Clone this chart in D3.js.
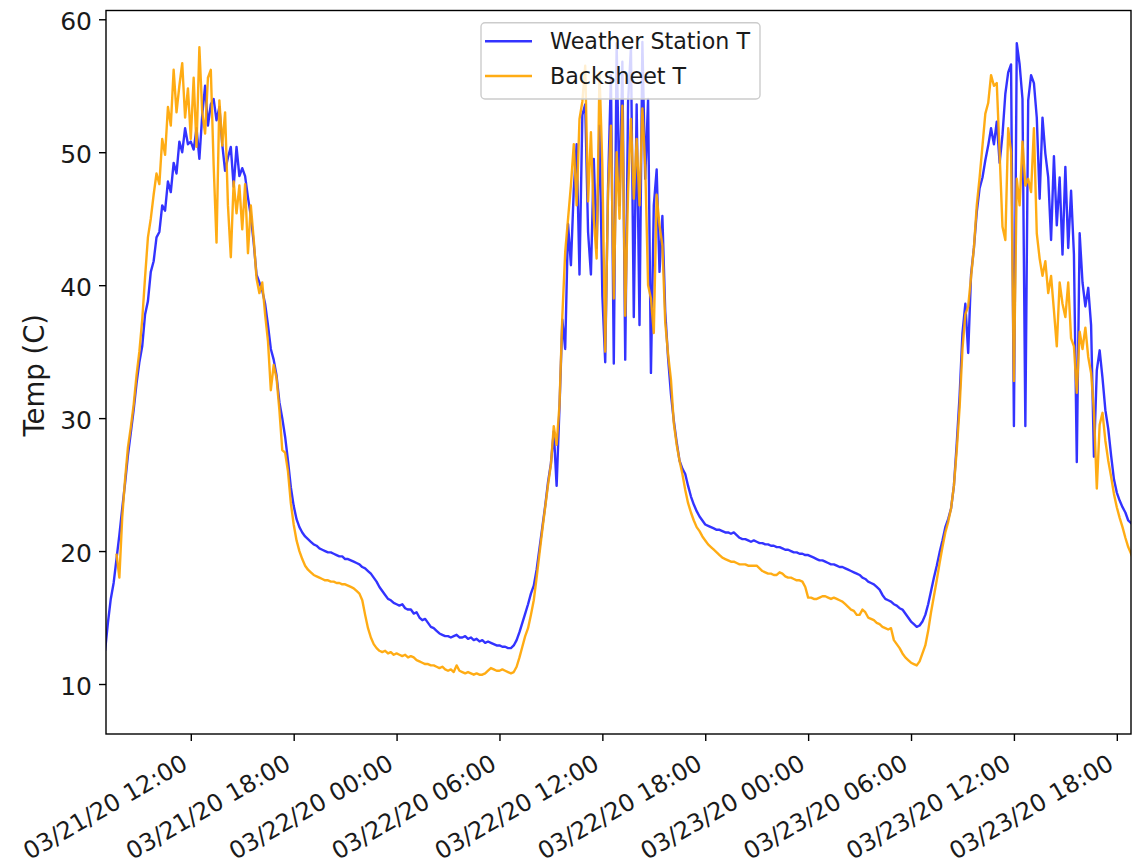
<!DOCTYPE html>
<html>
<head>
<meta charset="utf-8">
<script src="https://cdn.jsdelivr.net/npm/d3@7"></script>
<style>
  html, body { margin: 0; padding: 0; background: #ffffff; }
  svg { display: block; font-family: "DejaVu Sans", sans-serif; }
</style>
</head>
<body>
<svg id="chart" width="1132" height="867"></svg>
<script>
// Samples every 10 minutes starting 03/21/20 07:00 (one row per hour)
const seriesStart = "2020-03-21T07:00:00";
const stepMinutes = 10;

const weatherStationT = [
  12.5, 14.6, 16.4, 17.6, 19.4, 21.2,
  23.2, 25.1, 27.2, 28.9, 30.6, 32.6,
  34.2, 35.4, 37.8, 38.8, 41.0, 41.8,
  43.6, 44.0, 46.0, 45.6, 47.8, 47.0,
  49.2, 48.4, 50.8, 50.0, 51.8, 50.6,
  50.8, 50.2, 51.8, 49.5, 52.8, 55.0,
  52.0, 53.6, 54.0, 52.4, 53.4, 50.6,
  48.6, 49.6, 50.4, 47.4, 50.4, 48.2,
  48.8, 48.2, 46.6, 45.2, 43.2, 40.8,
  40.2, 39.6, 38.6, 37.0, 35.2, 34.4,
  33.2, 31.2, 30.0, 28.6, 26.8, 24.8,
  23.4, 22.4, 21.8, 21.4, 21.1, 20.9,
  20.7, 20.5, 20.4, 20.2, 20.1, 20.0,
  19.9, 19.9, 19.8, 19.7, 19.6, 19.6,
  19.4, 19.4, 19.3, 19.2, 19.1, 19.0,
  18.8, 18.7, 18.5, 18.3, 18.0, 17.7,
  17.3, 17.0, 16.7, 16.4, 16.3, 16.1,
  16.0, 15.9, 16.0, 15.7, 15.6, 15.6,
  15.3, 15.4, 15.0, 14.8, 14.9, 14.6,
  14.3, 14.2, 14.0, 13.8, 13.7, 13.6,
  13.6, 13.5, 13.6, 13.7, 13.5, 13.5,
  13.6, 13.4, 13.5, 13.3, 13.4, 13.2,
  13.3, 13.1, 13.2, 13.1, 13.0, 12.9,
  12.9, 12.8, 12.8, 12.7, 12.7, 12.9,
  13.3, 13.9, 14.6, 15.3, 16.0, 16.8,
  17.4, 18.6, 20.2, 21.8, 23.4, 25.2,
  26.6, 29.0, 24.9, 30.8, 37.4, 35.2,
  44.6, 41.5, 47.2, 50.6, 40.8, 52.8,
  53.6, 44.0, 40.8, 49.5, 42.8, 52.0,
  39.2, 34.2, 47.5, 55.8, 34.1, 58.2,
  46.0, 56.8, 34.4, 53.8, 57.9, 37.6,
  53.6, 37.0, 58.3, 48.0, 54.0, 33.4,
  46.0, 48.7, 41.0, 45.2, 38.0, 34.5,
  31.8, 29.8, 28.2, 26.8, 26.2, 25.8,
  24.9, 24.1, 23.5, 23.0, 22.6, 22.3,
  22.0, 21.9, 21.8, 21.7, 21.6, 21.6,
  21.5, 21.4, 21.4, 21.3, 21.4, 21.2,
  21.0, 20.9, 20.9, 20.8, 20.7, 20.8,
  20.7, 20.6, 20.6, 20.5, 20.5, 20.4,
  20.4, 20.3, 20.3, 20.2, 20.1, 20.1,
  20.0, 19.9, 19.9, 19.8, 19.8, 19.7,
  19.7, 19.6, 19.5, 19.4, 19.3, 19.3,
  19.2, 19.1, 19.0, 19.0, 18.9, 18.8,
  18.8, 18.7, 18.6, 18.5, 18.4, 18.3,
  18.2, 18.0, 17.9, 17.7, 17.6, 17.5,
  17.3, 17.1, 16.7, 16.4, 16.3, 16.2,
  16.0, 15.9, 15.7, 15.6, 15.3, 15.0,
  14.7, 14.5, 14.3, 14.4, 14.7, 15.2,
  16.0, 17.0, 18.0, 18.9, 19.9, 20.8,
  21.8, 22.4, 23.2, 24.9, 28.1, 31.7,
  36.4, 38.6, 34.9, 40.8, 42.8, 45.5,
  47.3, 48.1, 49.4, 50.5, 51.8, 50.6,
  52.3, 49.2, 51.3, 54.4, 56.0, 56.6,
  29.4, 58.2, 56.6, 54.0, 29.4, 53.9,
  55.8, 55.2, 52.6, 46.5, 52.6, 49.9,
  48.1, 43.4, 49.7, 44.5, 48.1, 42.3,
  48.9, 42.8, 47.1, 42.3, 26.7, 43.9,
  40.2, 38.4, 39.8, 37.0, 27.1, 33.6,
  35.1, 33.0, 30.6, 29.2, 27.2, 25.4,
  24.4, 23.8, 23.3, 22.9, 22.3, 22.1,
  21.9
];

const backsheetT = [
  null, null, null, null, 19.8, 18.0,
  22.5, 25.4, 27.8, 29.3, 31.0, 33.2,
  35.0, 37.4, 40.6, 43.6, 45.0, 46.8,
  48.4, 47.6, 51.0, 49.8, 53.4, 52.0,
  56.2, 53.0, 55.0, 56.7, 52.6, 54.8,
  51.0, 55.6, 50.4, 57.9, 53.0, 51.4,
  55.6, 56.2, 49.0, 43.2, 53.9, 50.5,
  53.0, 46.0, 42.1, 47.8, 45.4, 47.5,
  44.2, 47.6, 42.4, 46.0, 43.5, 40.5,
  39.4, 40.2, 37.8, 35.8, 32.1, 34.0,
  33.0, 30.6, 27.6, 27.4, 26.0, 23.6,
  22.0, 20.8, 20.0, 19.4, 18.9, 18.6,
  18.4, 18.2, 18.1, 18.0, 17.9, 17.8,
  17.8, 17.7, 17.7, 17.6, 17.6, 17.5,
  17.5, 17.4, 17.3, 17.2, 17.0, 16.8,
  16.3, 15.2, 14.2, 13.5, 13.0, 12.7,
  12.5, 12.4, 12.5, 12.3, 12.4, 12.2,
  12.3, 12.2, 12.1, 12.2, 12.0, 12.1,
  12.0, 11.8, 11.7, 11.6, 11.5, 11.5,
  11.4, 11.4, 11.3, 11.2, 11.3, 11.1,
  11.0, 11.1, 10.9, 11.4, 11.0, 10.9,
  10.8, 10.9, 10.8, 10.7, 10.8, 10.7,
  10.7, 10.8, 11.0, 11.2, 11.1, 11.0,
  11.0, 11.1, 11.0, 10.9, 10.8, 10.9,
  11.3, 12.0, 12.8, 13.6, 14.2, 15.2,
  16.3, 18.0, 19.8, 21.6, 23.3, 25.0,
  26.5, 29.4, 28.0, 31.0, 37.7, 42.5,
  45.0, 47.5, 50.6, 46.0, 52.5, 53.8,
  56.5, 46.3, 51.5, 45.0, 42.0, 56.0,
  49.0, 35.0, 47.0, 52.0, 39.0, 50.0,
  45.0, 53.5, 37.7, 47.0, 52.5, 46.5,
  51.0, 46.0, 53.3, 49.0, 40.0, 39.0,
  36.4, 46.8, 44.5, 43.0, 37.2, 34.8,
  32.9, 29.6, 28.0, 26.8, 25.8, 24.6,
  23.6, 22.9, 22.3, 21.8, 21.5, 21.1,
  20.8, 20.5, 20.3, 20.1, 19.9, 19.7,
  19.5, 19.4, 19.3, 19.2, 19.2, 19.1,
  19.0, 19.0, 19.0, 18.9, 18.9, 18.9,
  18.9, 18.7, 18.5, 18.4, 18.3, 18.3,
  18.2, 18.2, 18.4, 18.3, 18.1, 18.0,
  18.0, 17.9, 17.8, 17.8, 17.7, 17.3,
  16.5, 16.5, 16.4, 16.4, 16.5, 16.6,
  16.6, 16.5, 16.4, 16.5, 16.4, 16.3,
  16.2, 16.0, 15.8, 15.6, 15.5, 15.2,
  15.2, 15.6, 15.4, 15.0, 14.9, 14.8,
  14.6, 14.5, 14.3, 14.2, 14.1, 14.2,
  13.3, 13.0, 12.7, 12.3, 12.0, 11.8,
  11.6, 11.5, 11.4, 11.7, 12.3, 12.9,
  14.0, 15.4, 16.6, 17.8, 19.1, 20.3,
  21.4, 22.2, 23.2, 24.9, 27.6, 30.8,
  35.2, 37.8, 38.4, 40.6, 42.8, 46.0,
  48.1, 50.5, 52.9, 53.7, 55.8, 55.0,
  55.2, 49.9, 44.4, 43.4, 51.8, 50.0,
  32.8, 48.0, 46.0, 50.8, 47.5, 48.0,
  47.0, 51.8, 43.9, 42.0, 40.7, 41.8,
  39.4, 40.7, 38.1, 35.4, 40.2, 38.6,
  37.6, 40.2, 36.0, 35.4, 31.9, 36.5,
  35.2, 36.8, 34.6, 33.4, 30.5, 24.7,
  29.5, 30.4, 28.3, 26.8, 25.6, 24.3,
  23.3, 22.5, 21.8, 21.0, 20.3, 19.8,
  19.2
];

const seriesNames = ["Weather Station T", "Backsheet T"];
const seriesColors = ["#0000ff", "#ffa500"];
const yTickValues = [10, 20, 30, 40, 50, 60];
const xDomain = ["2020-03-21T07:03:18", "2020-03-23T18:49:40"];
const yDomain = [6.24, 60.66];
const yLabel = "Temp (C)";

// ---- layout ----
const plot = { left: 106, right: 1131, top: 10.5, bottom: 734 };
const svg = d3.select("#chart");

const x = d3.scaleTime()
  .domain(xDomain.map(d => new Date(d)))
  .range([plot.left, plot.right]);
const y = d3.scaleLinear()
  .domain(yDomain)
  .range([plot.bottom, plot.top]);

const t0 = new Date(seriesStart);
const times = weatherStationT.map((_, i) => d3.timeMinute.offset(t0, i * stepMinutes));

svg.append("defs").append("clipPath").attr("id", "plot-clip")
  .append("rect")
  .attr("x", plot.left).attr("y", plot.top)
  .attr("width", plot.right - plot.left)
  .attr("height", plot.bottom - plot.top);

const line = d3.line()
  .defined(d => d.v != null)
  .x(d => x(d.t))
  .y(d => y(d.v));

const series = [weatherStationT, backsheetT].map((vals, k) => ({
  name: seriesNames[k],
  color: seriesColors[k],
  opacity: k === 0 ? 0.8 : 0.92,
  points: vals.map((v, i) => ({ t: times[i], v }))
}));

const lines = svg.append("g").attr("clip-path", "url(#plot-clip)");
lines.selectAll("path")
  .data(series)
  .join("path")
  .attr("fill", "none")
  .attr("stroke", d => d.color)
  .attr("stroke-opacity", d => d.opacity)
  .attr("stroke-width", 2.4)
  .attr("stroke-linejoin", "round")
  .attr("d", d => line(d.points));

// ---- axes ----
const textColor = "#1a1a1a";

const yAxis = svg.append("g")
  .attr("transform", `translate(${plot.left},0)`)
  .call(d3.axisLeft(y).tickValues(yTickValues).tickSize(7).tickPadding(7));
yAxis.select(".domain").remove();
yAxis.selectAll(".tick line").attr("stroke", "#000").attr("stroke-width", 1.4);
yAxis.selectAll(".tick text")
  .attr("fill", textColor)
  .attr("font-size", 25)
  .attr("font-family", "DejaVu Sans, sans-serif")
  .attr("dy", "0.42em");

const xAxis = svg.append("g")
  .attr("transform", `translate(0,${plot.bottom})`)
  .call(d3.axisBottom(x)
    .ticks(d3.timeHour.every(6))
    .tickFormat(d3.timeFormat("%m/%d/%y %H:%M"))
    .tickSize(7));
xAxis.select(".domain").remove();
xAxis.selectAll(".tick line").attr("stroke", "#000").attr("stroke-width", 1.4);
xAxis.selectAll(".tick text")
  .attr("fill", textColor)
  .attr("font-size", 24)
  .attr("font-family", "DejaVu Sans, sans-serif")
  .attr("text-anchor", "end")
  .attr("x", 0).attr("y", 0).attr("dy", 0)
  .attr("transform", "translate(-2,34) rotate(-30)");

// frame around the plotting area
svg.append("rect")
  .attr("x", plot.left).attr("y", plot.top)
  .attr("width", plot.right - plot.left)
  .attr("height", plot.bottom - plot.top)
  .attr("fill", "none")
  .attr("stroke", "#000")
  .attr("stroke-width", 1.4);

// y-axis title
svg.append("text")
  .attr("transform", `translate(44,${(plot.top + plot.bottom) / 2 + 3}) rotate(-90)`)
  .attr("text-anchor", "middle")
  .attr("font-size", 27.5)
  .attr("fill", textColor)
  .text(yLabel);

// ---- legend (upper center) ----
const legend = svg.append("g");
const legendBox = { x: 481, y: 22.7, w: 279, h: 76.3 };
legend.append("rect")
  .attr("x", legendBox.x).attr("y", legendBox.y)
  .attr("width", legendBox.w).attr("height", legendBox.h)
  .attr("rx", 4)
  .attr("fill", "#ffffff").attr("fill-opacity", 0.8)
  .attr("stroke", "#cccccc").attr("stroke-width", 1.4);

const legendItems = legend.selectAll("g.item")
  .data(series)
  .join("g")
  .attr("class", "item")
  .attr("transform", (d, i) => `translate(${legendBox.x + 4},${41.3 + i * 34.7})`);
legendItems.append("line")
  .attr("x1", 0).attr("x2", 47)
  .attr("y1", 0).attr("y2", 0)
  .attr("stroke", d => d.color)
  .attr("stroke-opacity", d => d.opacity)
  .attr("stroke-width", 2.4);
legendItems.append("text")
  .attr("x", 65).attr("y", 8)
  .attr("font-size", 22.2)
  .attr("fill", textColor)
  .text(d => d.name);
</script>
</body>
</html>
